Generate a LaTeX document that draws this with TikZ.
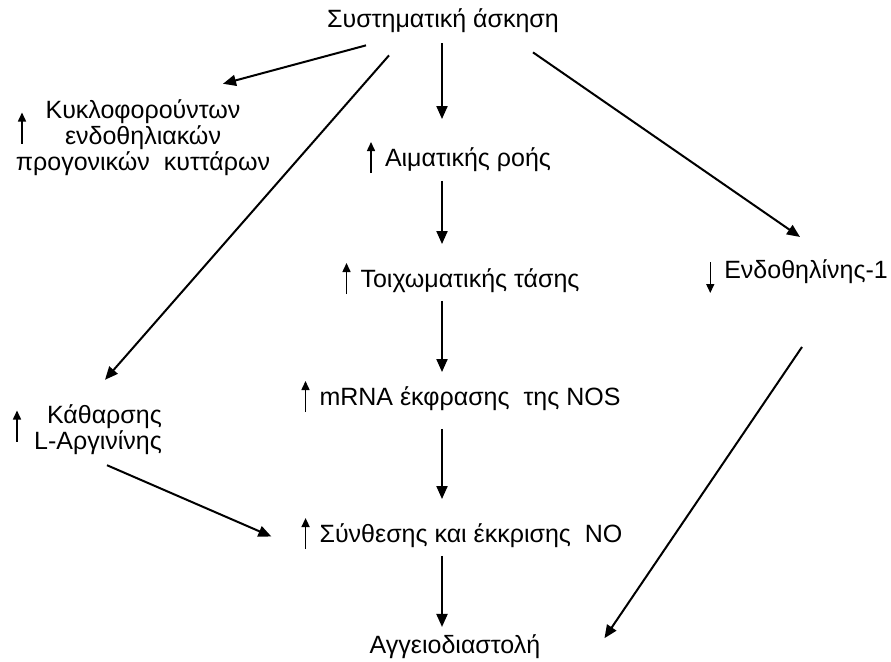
\documentclass[tikz,border=0pt]{standalone}
\usepackage{fontspec}
\setmainfont{Liberation Sans}
\usetikzlibrary{positioning,arrows.meta,calc}
\tikzset{
  flowarrow/.style={-{Triangle[length=13pt,width=11pt]}, line width=2pt},
  markarrow/.style={-{Triangle[length=9pt,width=8pt]}, line width=1.5pt},
  txt/.style={inner sep=0pt, font=\fontsize{25}{26}\selectfont, align=center}
}
% small up / down marks in front of the labels
\newcommand\upmark{\tikz[baseline=0pt]\draw[markarrow] (0pt,-7pt) -- (0pt,24pt);}
\newcommand\downmark{\tikz[baseline=0pt]\draw[markarrow] (0pt,16pt) -- (0pt,-15pt);}

\begin{document}
\begin{tikzpicture}[x=1pt, y=-1pt]
      \useasboundingbox (0,0) rectangle (891,661);
      \coordinate (spine) at (442,0);
      % labels
      \node[txt, anchor=base] (exercise) at (443,28) {Συστηματική άσκηση};
      \node[txt] (cells) at (143,138) {Κυκλοφορούντων\\ενδοθηλιακών\\προγονικών \ κυττάρων};
      \node[inner sep=0pt] (upCells) at (22,128) {\upmark};
      \node[txt, anchor=base] (flow) at (459,166) {\upmark\hspace{10pt}Αιματικής ροής};
      \node[txt, anchor=base] (stress) at (461,287) {\upmark\hspace{10pt}Τοιχωματικής τάσης};
      \node[txt, anchor=base east] (endo) at (888,278) {\downmark\hspace{10pt}Ενδοθηλίνης-1};
      \node[txt, anchor=base] (mrna) at (461,405) {\upmark\hspace{10pt}mRNA έκφρασης \ της NOS};
      \node[txt, align=right] (clear) at (98,430) {Κάθαρσης\\L-Αργινίνης};
      \node[inner sep=0pt] (upClear) at (17,426) {\upmark};
      \node[txt, anchor=base] (nosyn) at (462,542) {\upmark\hspace{10pt}Σύνθεσης και έκκρισης \ NO};
      \node[txt, anchor=base] (dilation) at (455,653) {Αγγειοδιαστολή};
      % arrows
      \draw[flowarrow] ([yshift=-10pt]exercise.south -| spine) -- ([yshift=22pt]flow.north -| spine);
      \draw[flowarrow] ([yshift=-7pt]flow.south -| spine) -- ([yshift=18pt]stress.north -| spine);
      \draw[flowarrow] ([yshift=-6pt]stress.south -| spine) -- ([yshift=8pt]mrna.north -| spine);
      \draw[flowarrow] ([yshift=-16pt]mrna.south -| spine) -- ([yshift=18pt]nosyn.north -| spine);
      \draw[flowarrow] ([yshift=-6pt]nosyn.south -| spine) -- ([yshift=7pt]dilation.north -| spine);
      \draw[flowarrow] ([xshift=39pt,yshift=-12pt]exercise.south west) -- ([xshift=80pt,yshift=16pt]cells.north);
      \draw[flowarrow] ([xshift=62pt,yshift=-22pt]exercise.south west) -- ([xshift=7pt,yshift=25pt]clear.north);
      \draw[flowarrow] ([xshift=-26pt,yshift=-19pt]exercise.south east) -- ([xshift=-88pt,yshift=22pt]endo.north east);
      \draw[flowarrow] ([xshift=9pt,yshift=-10pt]clear.south) -- ([xshift=-30pt,yshift=-3pt]nosyn.west);
      \draw[flowarrow] ([xshift=-86pt,yshift=-53pt]endo.south east) -- ([xshift=64pt,yshift=8pt]dilation.east);
    \end{tikzpicture}
\end{document}
